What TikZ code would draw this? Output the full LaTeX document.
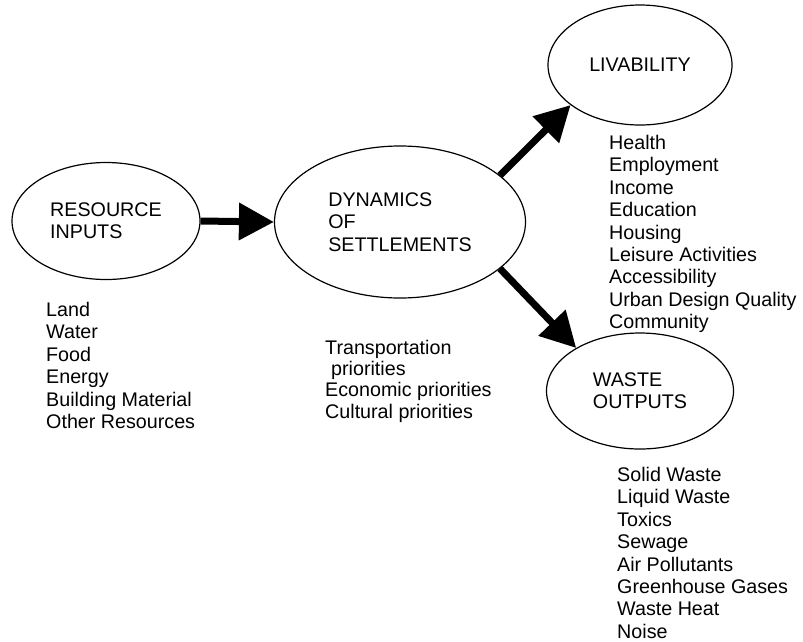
\documentclass[tikz,border=0pt]{standalone}
\usepackage{fontspec}
\setmainfont{Liberation Sans}
\usetikzlibrary{shapes.geometric,arrows.meta}

\begin{document}
\begin{tikzpicture}[x = 1pt, y = -1pt,
  blob/.style = {draw, ellipse, line width = 1.2pt, inner sep = 0pt, align = left},
  flow/.style = {line width = 7pt, -{Triangle[length = 35pt, width = 36pt]}},
  items/.style = {anchor = north west, inner sep = 0pt, align = left}]
\useasboundingbox (0,0) rectangle (803,641);
\fontsize{19.7}{22.4}\selectfont
% the four ellipses
\node [blob, minimum width = 188pt, minimum height = 117pt] (inputs) at (106,221) {RESOURCE\\INPUTS};
\node [blob, minimum width = 251pt, minimum height = 152pt] (dynamics) at (400,222) {DYNAMICS\\OF\\SETTLEMENTS};
\node [blob, minimum width = 184pt, minimum height = 120pt] (livability) at (640,65) {LIVABILITY};
\node [blob, minimum width = 187pt, minimum height = 116pt] (waste) at (640,391) {WASTE\\OUTPUTS};
% arrows
\draw [flow] (inputs.east) -- (dynamics.west);
\draw [flow] (dynamics.25) -- (livability.210);
\draw [flow] (dynamics.-25) -- (waste.146);
% lists
\node [items] (inlist) at (46,302) {Land\\Water\\Food\\Energy\\Building Material\\Other Resources};
\node [items, font = \fontsize{19.7}{21.2}\selectfont] (prlist) at (325,340) {Transportation\\\hspace{6pt}priorities\\Economic priorities\\Cultural priorities};
\node [items] (livlist) at (609,135) {Health\\Employment\\Income\\Education\\Housing\\Leisure Activities\\Accessibility\\Urban Design Quality\\Community};
\node [items] (wastelist) at (617,467) {Solid Waste\\Liquid Waste\\Toxics\\Sewage\\Air Pollutants\\Greenhouse Gases\\Waste Heat\\Noise};
\end{tikzpicture}
\end{document}
